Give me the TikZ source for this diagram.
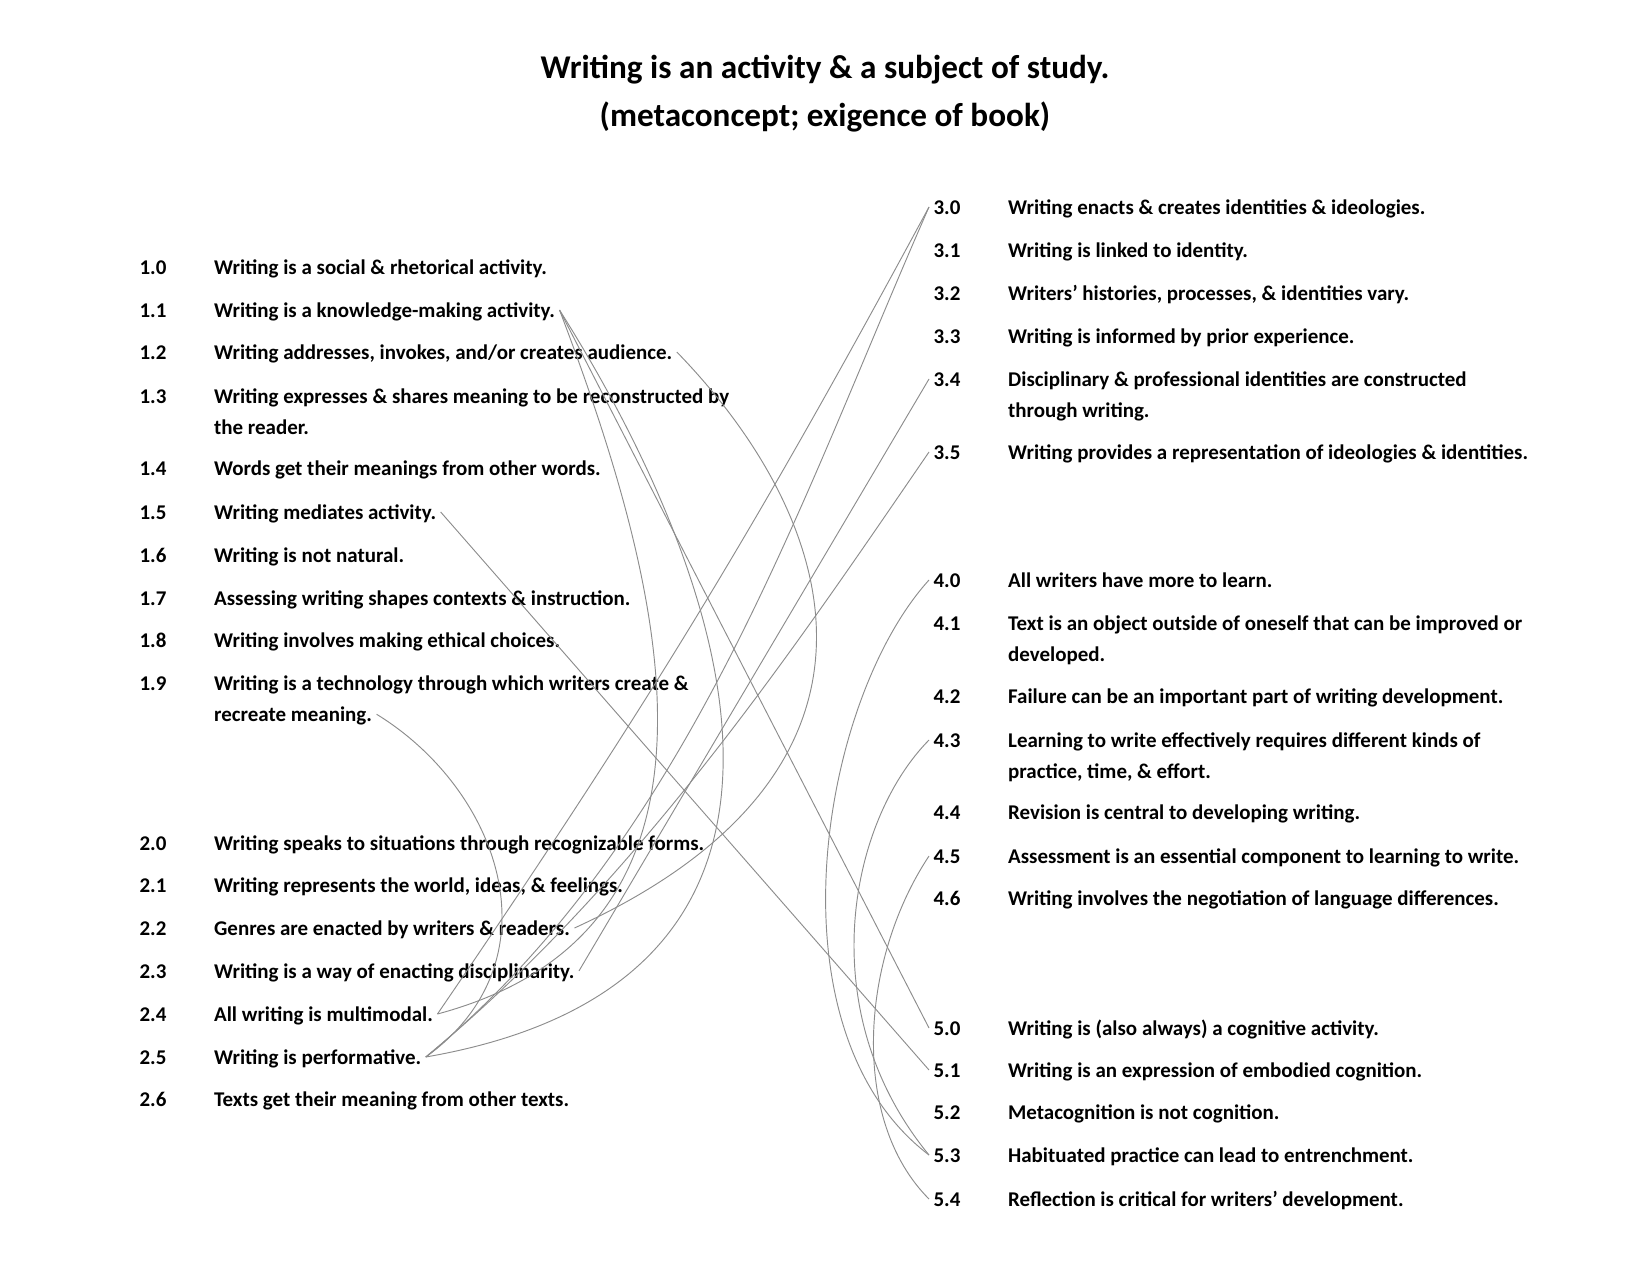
\documentclass[tikz,border=0pt]{standalone}
\usepackage{fontspec}
\setmainfont{Carlito}
\usetikzlibrary{positioning}

\tikzset{
  head/.style={inner sep=0pt, font=\fontsize{16}{22.8}\selectfont\bfseries, text height=16.8pt, text depth=6pt},
  num/.style={anchor=west, inner xsep=2pt, inner ysep=0pt, font=\fontsize{10.1}{14.65}\selectfont\bfseries, text height=11pt, text depth=3.65pt},
  txt/.style={inner xsep=2pt, inner ysep=0pt, font=\fontsize{10.1}{14.65}\selectfont\bfseries, text height=11pt, text depth=3.65pt},
  link/.style={draw=black!45, line width=0.45pt}
}

\begin{document}
\begin{tikzpicture}[x=0.016933cm, y=-0.016933cm]

\useasboundingbox (0,0) rectangle (1650,1275);

\node[head] (title) at (825,67) {Writing is an activity \& a subject of study.};
\node[head, below=0pt of title] (meta) {(metaconcept; exigence of book)};

% block 1
\node[num] (n10) at (135,267) {1.0};
\node[txt, right=18.6pt of n10] (t10) {Writing is a social \& rhetorical activity.};
\node[num] (n11) at (135,310) {1.1};
\node[txt, right=18.6pt of n11] (t11) {Writing is a knowledge-making activity.};
\node[num] (n12) at (135,352) {1.2};
\node[txt, right=18.6pt of n12] (t12) {Writing addresses, invokes, and/or creates audience.};
\node[num] (n13) at (135,396) {1.3};
\node[txt, right=18.6pt of n13] (t13) {Writing expresses \& shares meaning to be reconstructed by};
\node[txt, anchor=north west] (t13b) at (t13.south west) {the reader.};
\node[num] (n14) at (135,468) {1.4};
\node[txt, right=18.6pt of n14] (t14) {Words get their meanings from other words.};
\node[num] (n15) at (135,512) {1.5};
\node[txt, right=18.6pt of n15] (t15) {Writing mediates activity.};
\node[num] (n16) at (135,555) {1.6};
\node[txt, right=18.6pt of n16] (t16) {Writing is not natural.};
\node[num] (n17) at (135,598) {1.7};
\node[txt, right=18.6pt of n17] (t17) {Assessing writing shapes contexts \& instruction.};
\node[num] (n18) at (135,640) {1.8};
\node[txt, right=18.6pt of n18] (t18) {Writing involves making ethical choices.};
\node[num] (n19) at (135,683) {1.9};
\node[txt, right=18.6pt of n19] (t19) {Writing is a technology through which writers create \&};
\node[txt, anchor=north west] (t19b) at (t19.south west) {recreate meaning.};

% block 2
\node[num] (n20) at (135,843) {2.0};
\node[txt, right=18.6pt of n20] (t20) {Writing speaks to situations through recognizable forms.};
\node[num] (n21) at (135,885) {2.1};
\node[txt, right=18.6pt of n21] (t21) {Writing represents the world, ideas, \& feelings.};
\node[num] (n22) at (135,928) {2.2};
\node[txt, right=18.6pt of n22] (t22) {Genres are enacted by writers \& readers.};
\node[num] (n23) at (135,971) {2.3};
\node[txt, right=18.6pt of n23] (t23) {Writing is a way of enacting disciplinarity.};
\node[num] (n24) at (135,1014) {2.4};
\node[txt, right=18.6pt of n24] (t24) {All writing is multimodal.};
\node[num] (n25) at (135,1057) {2.5};
\node[txt, right=18.6pt of n25] (t25) {Writing is performative.};
\node[num] (n26) at (135,1099) {2.6};
\node[txt, right=18.6pt of n26] (t26) {Texts get their meaning from other texts.};

% block 3
\node[num] (n30) at (929,207) {3.0};
\node[txt, right=18.6pt of n30] (t30) {Writing enacts \& creates identities \& ideologies.};
\node[num] (n31) at (929,250) {3.1};
\node[txt, right=18.6pt of n31] (t31) {Writing is linked to identity.};
\node[num] (n32) at (929,293) {3.2};
\node[txt, right=18.6pt of n32] (t32) {Writers’ histories, processes, \& identities vary.};
\node[num] (n33) at (929,336) {3.3};
\node[txt, right=18.6pt of n33] (t33) {Writing is informed by prior experience.};
\node[num] (n34) at (929,379) {3.4};
\node[txt, right=18.6pt of n34] (t34) {Disciplinary \& professional identities are constructed};
\node[txt, anchor=north west] (t34b) at (t34.south west) {through writing.};
\node[num] (n35) at (929,452) {3.5};
\node[txt, right=18.6pt of n35] (t35) {Writing provides a representation of ideologies \& identities.};

% block 4
\node[num] (n40) at (929,580) {4.0};
\node[txt, right=18.6pt of n40] (t40) {All writers have more to learn.};
\node[num] (n41) at (929,623) {4.1};
\node[txt, right=18.6pt of n41] (t41) {Text is an object outside of oneself that can be improved or};
\node[txt, anchor=north west] (t41b) at (t41.south west) {developed.};
\node[num] (n42) at (929,696) {4.2};
\node[txt, right=18.6pt of n42] (t42) {Failure can be an important part of writing development.};
\node[num] (n43) at (929,740) {4.3};
\node[txt, right=18.6pt of n43] (t43) {Learning to write effectively requires different kinds of};
\node[txt, anchor=north west] (t43b) at (t43.south west) {practice, time, \& effort.};
\node[num] (n44) at (929,812) {4.4};
\node[txt, right=18.6pt of n44] (t44) {Revision is central to developing writing.};
\node[num] (n45) at (929,856) {4.5};
\node[txt, right=18.6pt of n45] (t45) {Assessment is an essential component to learning to write.};
\node[num] (n46) at (929,898) {4.6};
\node[txt, right=18.6pt of n46] (t46) {Writing involves the negotiation of language differences.};

% block 5
\node[num] (n50) at (929,1028) {5.0};
\node[txt, right=18.6pt of n50] (t50) {Writing is (also always) a cognitive activity.};
\node[num] (n51) at (929,1070) {5.1};
\node[txt, right=18.6pt of n51] (t51) {Writing is an expression of embodied cognition.};
\node[num] (n52) at (929,1112) {5.2};
\node[txt, right=18.6pt of n52] (t52) {Metacognition is not cognition.};
\node[num] (n53) at (929,1155) {5.3};
\node[txt, right=18.6pt of n53] (t53) {Habituated practice can lead to entrenchment.};
\node[num] (n54) at (929,1199) {5.4};
\node[txt, right=18.6pt of n54] (t54) {Reflection is critical for writers’ development.};

% links
\draw[link] (t11.east) -- (n50.west);
\draw[link] (t15.east) -- (n51.west);
\draw[link] (t11.east) .. controls (670,600) and (750,930) .. (t24.east);
\draw[link] (t11.east) .. controls (730,580) and (870,980) .. (t25.east);
\draw[link] (t12.east) .. controls (840,520) and (920,770) .. (t22.east);
\draw[link] (t19b.east) .. controls (500,790) and (560,960) .. (t25.east);
\draw[link] (t24.east) to[bend right=3] (n30.west);
\draw[link] (n30.west) .. controls (800,500) and (690,840) .. (t25.east);
\draw[link] (n34.west) -- (t23.east);
\draw[link] (n35.west) .. controls (800,640) and (640,880) .. (t25.east);

\draw[link] (n40.west) .. controls (820,700) and (765,1030) .. (n53.west);
\draw[link] (n43.west) .. controls (850,820) and (810,1010) .. (n53.west);
\draw[link] (n45.west) .. controls (860,960) and (850,1120) .. (n54.west);

\end{tikzpicture}
\end{document}
